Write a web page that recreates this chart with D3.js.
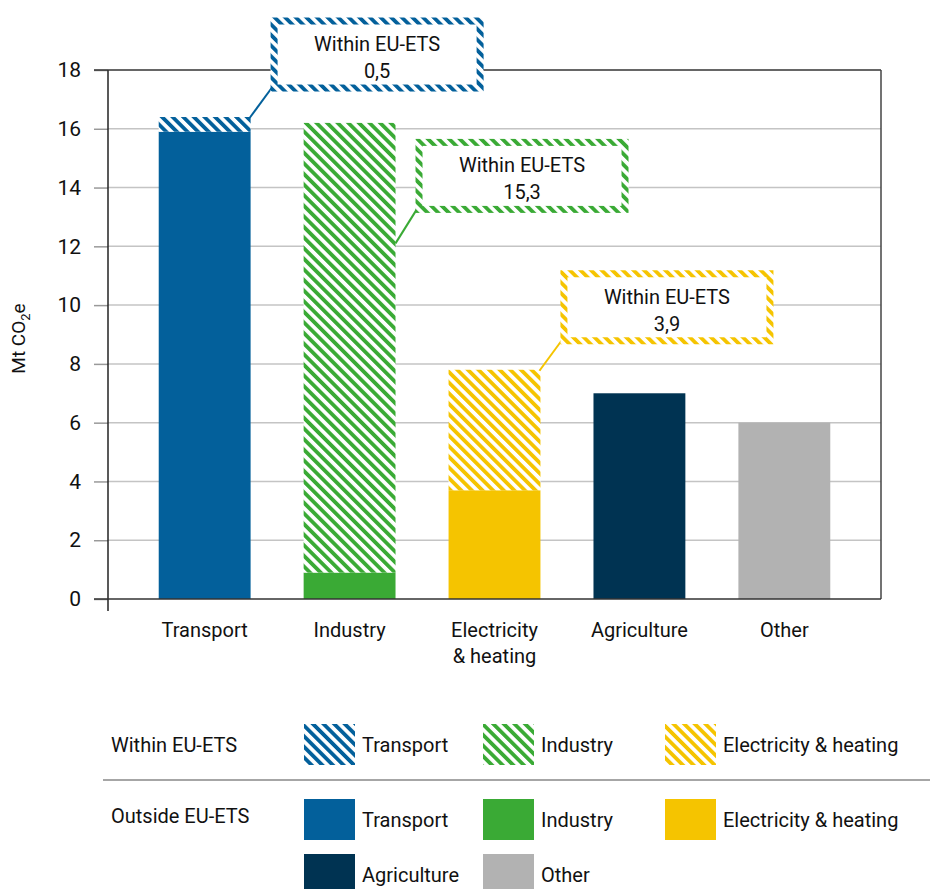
<!DOCTYPE html>
<html>
<head>
<meta charset="utf-8">
<script src="https://cdn.jsdelivr.net/npm/d3@7"></script>
<style>
  body { margin: 0; background: #fff; }
  text { font-family: Roboto, "Open Sans", sans-serif; fill: #111; }
</style>
</head>
<body>
<svg id="chart" width="930" height="889"></svg>
<script>
// sectors and their emissions (Mt CO2e)
const sectors = ["Transport", "Industry", "Electricity & heating", "Agriculture", "Other"];
const sectorLines = [["Transport"], ["Industry"], ["Electricity", "& heating"], ["Agriculture"], ["Other"]];
const outsideEts = [15.9, 0.9, 3.7, 7.0, 6.0];
const withinEts = [0.5, 15.3, 4.1, 0, 0];
const etsLabels = ["0,5", "15,3", "3,9", null, null];
const colors = ["#03609b", "#3aaa35", "#f5c400", "#003352", "#b2b2b2"];
const yTicks = [0, 2, 4, 6, 8, 10, 12, 14, 16, 18];

const svg = d3.select("#chart");
const plotL = 108, plotR = 881, plotT = 70, plotB = 599;
const fs = "20px";

const x = d3.scaleBand().domain(sectors).range([plotL, plotR]).paddingInner(0.366).paddingOuter(0.35);
const y = d3.scaleLinear().domain([0, 18]).range([plotB, plotT]);

// hatch patterns
const defs = svg.append("defs");
colors.forEach((c, i) => {
  const p = defs.append("pattern")
    .attr("id", "hatch" + i)
    .attr("patternUnits", "userSpaceOnUse")
    .attr("width", 7.5).attr("height", 7.5)
    .attr("patternTransform", "rotate(-45)");
  p.append("rect").attr("width", 7.5).attr("height", 7.5).attr("fill", "#fff");
  p.append("rect").attr("width", 3.8).attr("height", 7.5).attr("fill", c);
});

// gridlines
svg.append("g").selectAll("line")
  .data(yTicks.filter(t => t > 0 && t < 18))
  .join("line")
  .attr("x1", plotL).attr("x2", plotR)
  .attr("y1", d => y(d)).attr("y2", d => y(d))
  .attr("stroke", "#c4c4c4").attr("stroke-width", 1.5);

// y axis
const yAxis = svg.append("g")
  .attr("transform", `translate(${plotL},0)`)
  .call(d3.axisLeft(y).tickValues(yTicks).tickSize(14).tickPadding(13));
yAxis.select(".domain").remove();
yAxis.selectAll(".tick line").attr("stroke", "#999").attr("stroke-width", 1.5);
yAxis.selectAll(".tick text").style("font-size", "21px").attr("fill", "#111");

// frame
svg.append("line").attr("x1", plotL).attr("x2", plotL).attr("y1", plotT).attr("y2", plotB + 12)
  .attr("stroke", "#222").attr("stroke-width", 1.5);
svg.append("line").attr("x1", plotL - 14).attr("x2", plotR).attr("y1", plotT).attr("y2", plotT)
  .attr("stroke", "#333").attr("stroke-width", 1.5);
svg.append("line").attr("x1", plotR).attr("x2", plotR).attr("y1", plotT).attr("y2", plotB)
  .attr("stroke", "#444").attr("stroke-width", 1.5);

// bars
const bars = svg.append("g");
bars.selectAll(".outside")
  .data(sectors)
  .join("rect")
  .attr("x", d => x(d)).attr("width", x.bandwidth())
  .attr("y", (d, i) => y(outsideEts[i]))
  .attr("height", (d, i) => y(0) - y(outsideEts[i]))
  .attr("fill", (d, i) => colors[i]);
bars.selectAll(".within")
  .data(sectors.filter((d, i) => withinEts[i] > 0))
  .join("rect")
  .attr("x", d => x(d)).attr("width", x.bandwidth())
  .attr("y", d => { const i = sectors.indexOf(d); return y(outsideEts[i] + withinEts[i]); })
  .attr("height", d => { const i = sectors.indexOf(d); return y(outsideEts[i]) - y(outsideEts[i] + withinEts[i]); })
  .attr("fill", d => "url(#hatch" + sectors.indexOf(d) + ")");

// x axis baseline
svg.append("line").attr("x1", plotL - 14).attr("x2", plotR).attr("y1", plotB).attr("y2", plotB)
  .attr("stroke", "#333").attr("stroke-width", 1.5);

// x labels
sectors.forEach((s, i) => {
  const t = svg.append("text")
    .attr("x", x(s) + x.bandwidth() / 2)
    .attr("y", plotB + 38)
    .attr("text-anchor", "middle")
    .style("font-size", fs);
  sectorLines[i].forEach((ln, j) => t.append("tspan")
    .attr("x", x(s) + x.bandwidth() / 2).attr("dy", j ? 26 : 0).text(ln));
});

// y axis title
const yt = svg.append("text")
  .attr("transform", `translate(25,${(plotT + plotB) / 2 + 4}) rotate(-90)`)
  .attr("text-anchor", "middle")
  .style("font-size", "19px");
yt.append("tspan").text("Mt CO");
yt.append("tspan").attr("dy", 5).style("font-size", "13px").text("2");
yt.append("tspan").attr("dy", -5).text("e");

// annotation boxes with leader lines
const boxW = 206, boxH = 67;
sectors.forEach((s, i) => {
  if (!etsLabels[i]) return;
  const barRight = x(s) + x.bandwidth();
  const barTop = y(outsideEts[i] + withinEts[i]);
  const bx = barRight + 23.5, by = barTop - (i === 1 ? -19.5 : 96);
  const ax = i === 1 ? barRight : barRight - 1;
  const ay = i === 1 ? y(outsideEts[i] + withinEts[i] - 4.1) : barTop + 1;
  const g = svg.append("g");
  g.append("line")
    .attr("x1", ax).attr("y1", ay)
    .attr("x2", bx - 1).attr("y2", by + boxH - 2)
    .attr("stroke", colors[i]).attr("stroke-width", 2);
  g.append("rect")
    .attr("x", bx).attr("y", by).attr("width", boxW).attr("height", boxH)
    .attr("fill", "#fff")
    .attr("stroke", `url(#hatch${i})`).attr("stroke-width", 7);
  g.append("text").attr("x", bx + boxW / 2).attr("y", by + 30)
    .attr("text-anchor", "middle").style("font-size", fs).text("Within EU-ETS");
  g.append("text").attr("x", bx + boxW / 2).attr("y", by + 57)
    .attr("text-anchor", "middle").style("font-size", fs).text(etsLabels[i]);
});

// legend
const legend = svg.append("g");
const colX = [304, 483, 665];
const sw = 51, sh = 41;
legend.append("text").attr("x", 111).attr("y", 752).style("font-size", fs).text("Within EU-ETS");
legend.append("text").attr("x", 111).attr("y", 823).style("font-size", fs).text("Outside EU-ETS");
legend.append("line").attr("x1", 103).attr("x2", 930).attr("y1", 780).attr("y2", 780)
  .attr("stroke", "#888").attr("stroke-width", 1.5);

const withinItems = [0, 1, 2];
withinItems.forEach((si, k) => {
  legend.append("rect").attr("x", colX[k]).attr("y", 724).attr("width", sw).attr("height", sh)
    .attr("fill", `url(#hatch${si})`);
  legend.append("text").attr("x", colX[k] + sw + 7).attr("y", 752).style("font-size", fs).text(sectors[si]);
});
const outsideItems = [0, 1, 2, 3, 4];
outsideItems.forEach((si, k) => {
  const cx = colX[k % 3], cy = k < 3 ? 799 : 854;
  legend.append("rect").attr("x", cx).attr("y", cy).attr("width", sw).attr("height", sh)
    .attr("fill", colors[si]);
  legend.append("text").attr("x", cx + sw + 7).attr("y", cy + 28).style("font-size", fs).text(sectors[si]);
});
</script>
</body>
</html>
